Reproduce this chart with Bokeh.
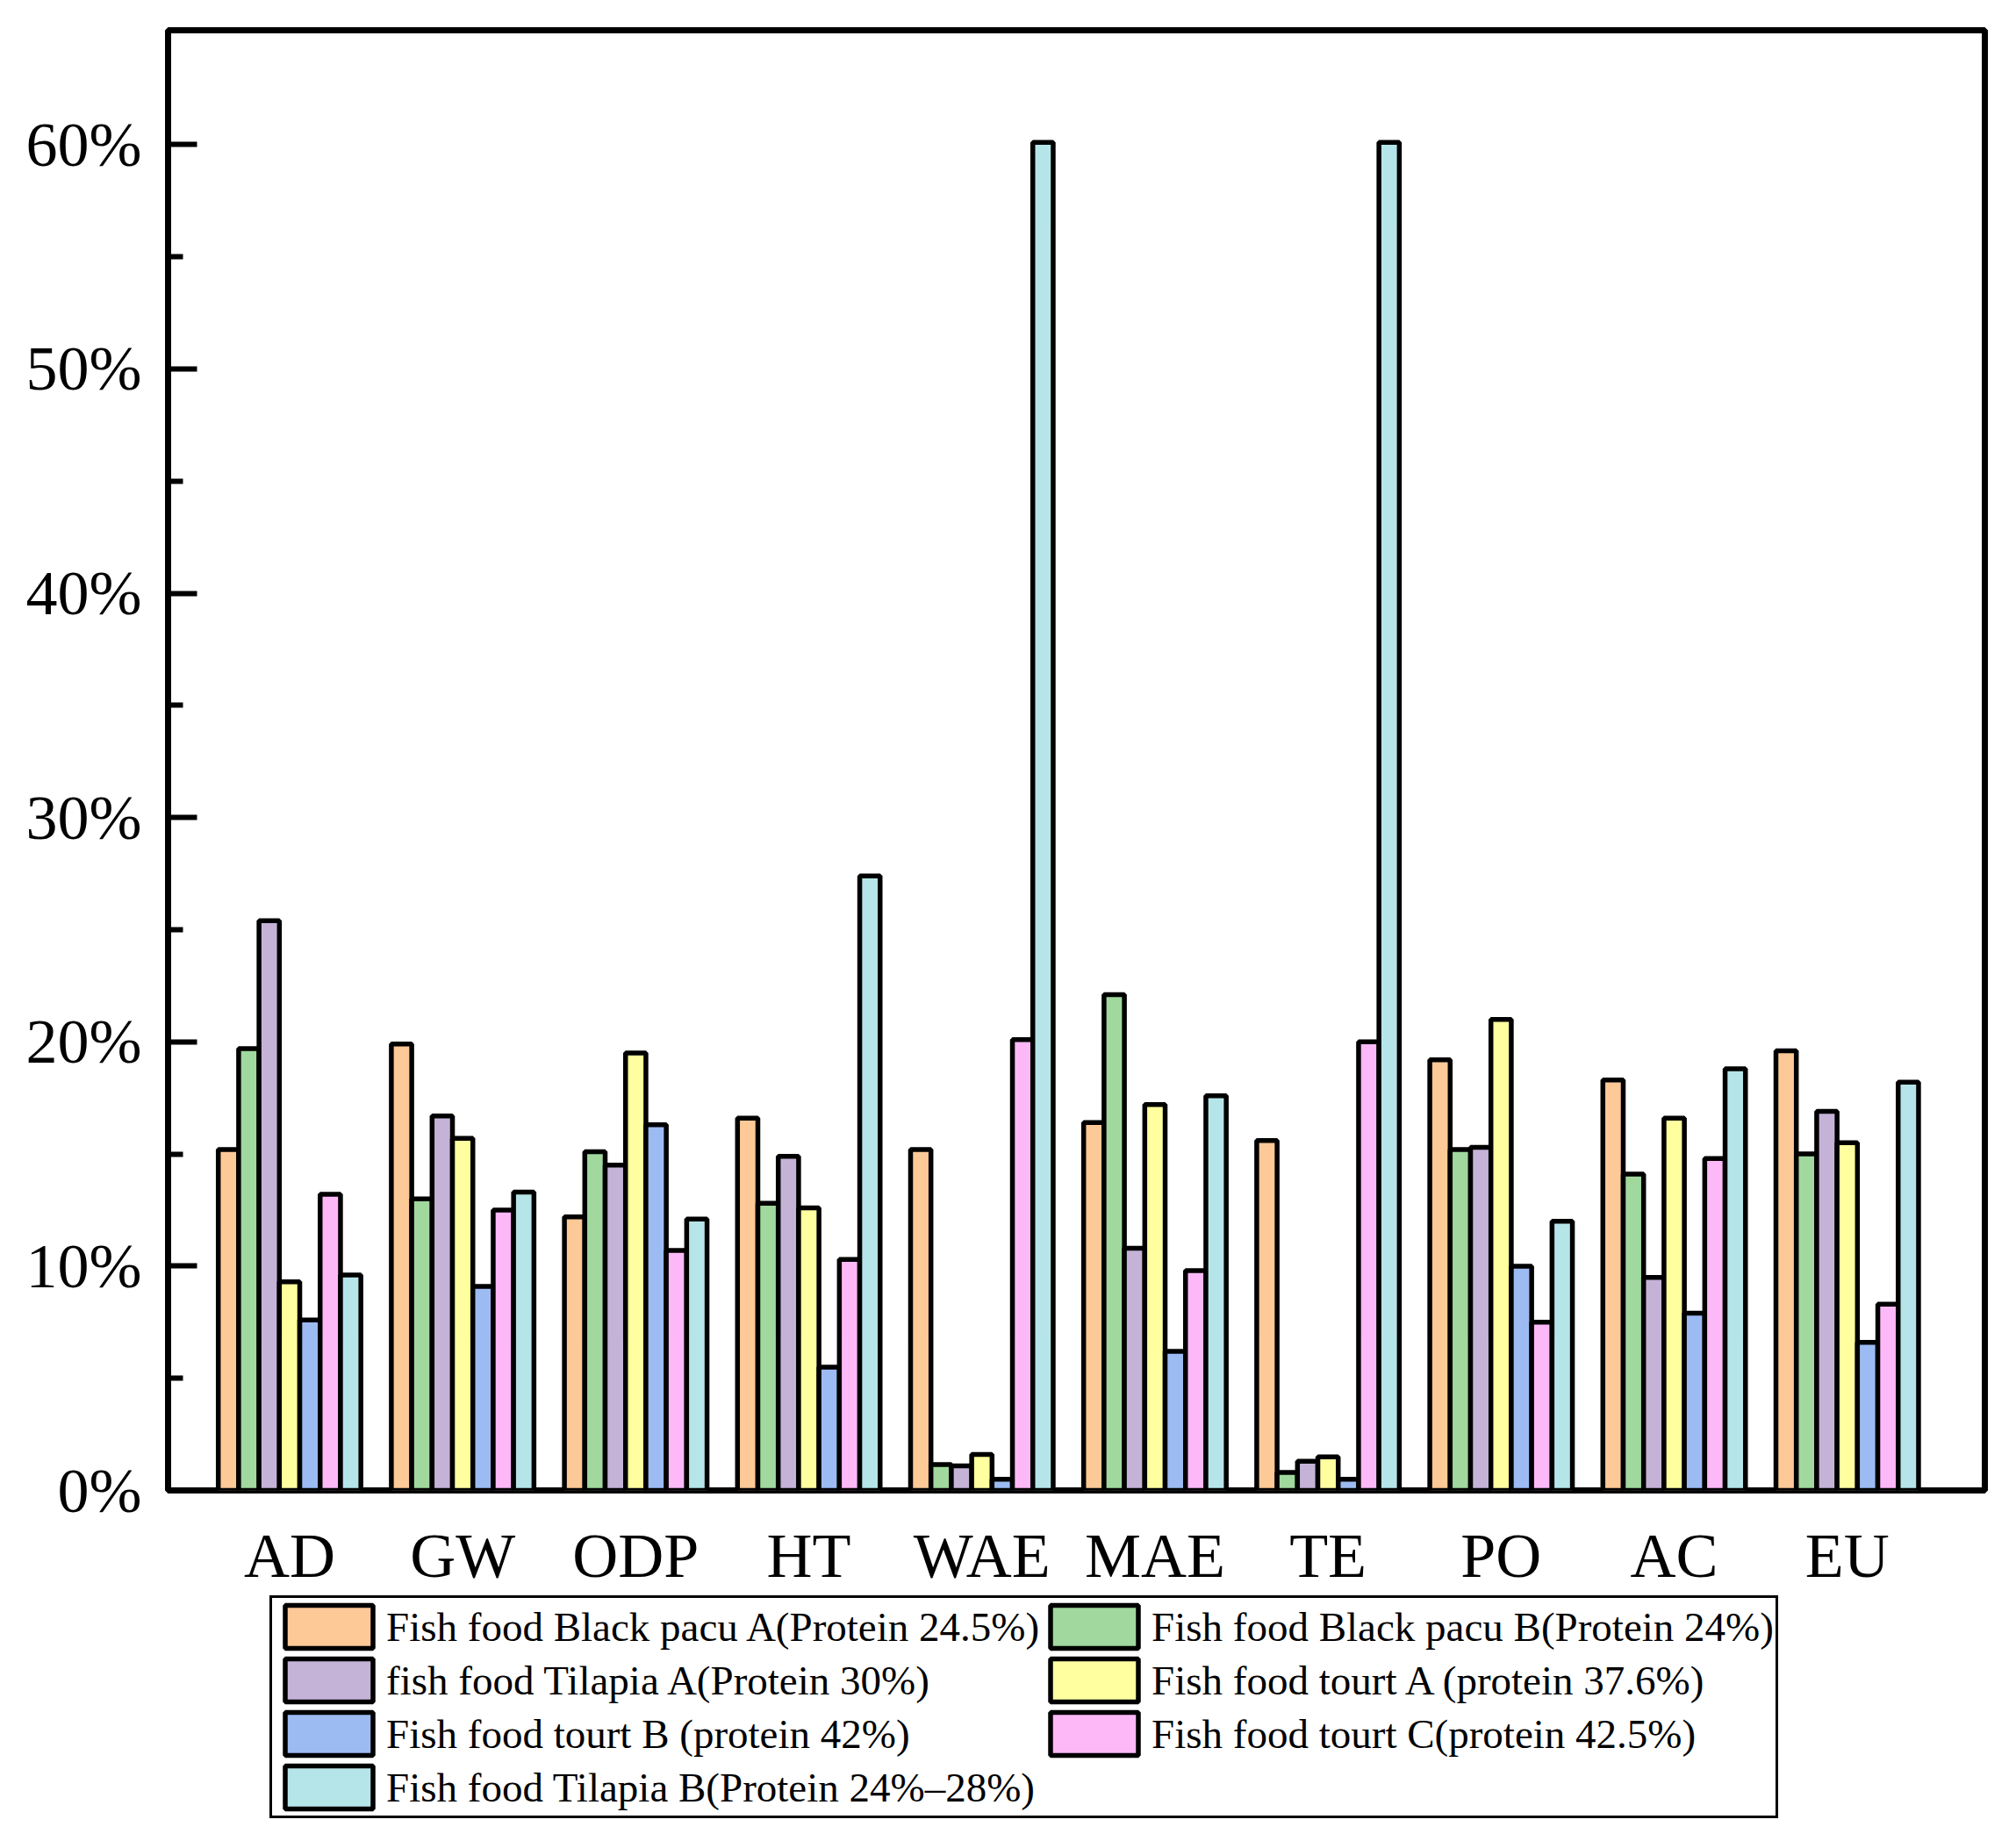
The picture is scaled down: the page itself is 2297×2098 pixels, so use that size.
import numpy as np
from bokeh.plotting import figure
from bokeh.layouts import column
from bokeh.models import Range1d, FixedTicker, PrintfTickFormatter, Legend, LegendItem, ColumnDataSource
from bokeh.embed import file_html
from bokeh.resources import INLINE

categories = ["AD", "GW", "ODP", "HT", "WAE", "MAE", "TE", "PO", "AC", "EU"]

series_names = [
    "Fish food Black pacu A(Protein 24.5%)",
    "Fish food Black pacu B(Protein 24%)",
    "fish food Tilapia A(Protein 30%)",
    "Fish food tourt A (protein 37.6%)",
    "Fish food tourt B (protein 42%)",
    "Fish food tourt C(protein 42.5%)",
    "Fish food Tilapia B(Protein 24%\u201328%)",
]

black_pacu_a = [15.2, 19.9, 12.2, 16.6, 15.2, 16.4, 15.6, 19.2, 18.3, 19.6]
black_pacu_b = [19.7, 13.0, 15.1, 12.8, 1.15, 22.1, 0.8, 15.2, 14.1, 15.0]
tilapia_a = [25.4, 16.7, 14.5, 14.9, 1.1, 10.8, 1.3, 15.3, 9.5, 16.9]
tourt_a = [9.3, 15.7, 19.5, 12.6, 1.6, 17.2, 1.5, 21.0, 16.6, 15.5]
tourt_b = [7.6, 9.1, 16.3, 5.5, 0.5, 6.2, 0.5, 10.0, 7.9, 6.6]
tourt_c = [13.2, 12.5, 10.7, 10.3, 20.1, 9.8, 20.0, 7.5, 14.8, 8.3]
tilapia_b = [9.6, 13.3, 12.1, 27.4, 60.1, 17.6, 60.1, 12.0, 18.8, 18.2]

series_values = [black_pacu_a, black_pacu_b, tilapia_a, tourt_a, tourt_b, tourt_c, tilapia_b]
colors = ["#FCC997", "#A0D89E", "#C4B3D7", "#FFFFA0", "#9CBBF3", "#FDB8F8", "#B6E5E9"]

y_ticks = [0, 10, 20, 30, 40, 50, 60]
y_minor = [5, 15, 25, 35, 45, 55]

FONT = "Liberation Serif"
bar_w = 0.1177
W = 2281

p = figure(width=W, height=1815, output_backend="svg", toolbar_location=None,
           x_range=Range1d(-0.702, 9.795), y_range=Range1d(0, 65.1),
           min_border_left=191, min_border_right=20, min_border_top=34, min_border_bottom=109)
p.xgrid.visible = False
p.ygrid.visible = False
p.outline_line_color = "black"
p.outline_line_width = 7
p.background_fill_color = "white"

idx = np.arange(len(categories))
sources = []
renderers = []
for j, (vals, col) in enumerate(zip(series_values, colors)):
    src = ColumnDataSource(dict(x=idx + (j - 3) * bar_w, top=vals))
    sources.append(src)
    r = p.vbar(x="x", top="top", bottom=0, width=bar_w, source=src,
               fill_color=col, line_color="black", line_width=5.5)
    renderers.append(r)

# y axis
ya = p.yaxis[0]
ya.ticker = FixedTicker(ticks=y_ticks, minor_ticks=y_minor)
ya.formatter = PrintfTickFormatter(format="%d%%")
ya.axis_line_color = None
ya.major_tick_in = 33
ya.major_tick_out = 0
ya.minor_tick_in = 17
ya.minor_tick_out = 0
ya.major_tick_line_width = 6
ya.minor_tick_line_width = 6
ya.major_label_text_font = FONT
ya.major_label_text_font_size = "72px"
ya.major_label_standoff = 30
ya.major_label_text_color = "black"

# x axis
xa = p.xaxis[0]
xa.ticker = FixedTicker(ticks=list(idx), minor_ticks=[])
xa.major_label_overrides = {int(i): c for i, c in zip(idx, categories)}
xa.axis_line_color = None
xa.major_tick_line_color = None
xa.minor_tick_line_color = None
xa.major_label_text_font = FONT
xa.major_label_text_font_size = "72px"
xa.major_label_standoff = 28
xa.major_label_text_color = "black"

# legend panel (same data, renderers hidden, used only for the legend swatches)
lf = figure(width=W, height=2082 - 1815, output_backend="svg", toolbar_location=None,
            x_range=Range1d(100, 101), y_range=Range1d(100, 101),
            min_border_left=191, min_border_right=20, min_border_top=0, min_border_bottom=0)
lf.axis.visible = False
lf.grid.visible = False
lf.outline_line_color = None
leg_renderers = []
for src, col in zip(sources, colors):
    r = lf.vbar(x="x", top="top", bottom=0, width=bar_w, source=src,
                fill_color=col, line_color="black", line_width=5.5, visible=False)
    leg_renderers.append(r)

order = [0, 2, 4, 6, 1, 3, 5]  # left column 1,3,5,7 ; right column 2,4,6
items = [LegendItem(label=series_names[k], renderers=[leg_renderers[k]]) for k in order]
legend = Legend(items=items, location=(116, 10), ncols=2, orientation="vertical",
                label_text_font=FONT, label_text_font_size="47px", label_text_color="black",
                glyph_width=125, glyph_height=61, label_height=50, label_standoff=3,
                spacing=-2, padding=2, margin=0,
                border_line_color="black", border_line_width=3, border_line_alpha=1.0,
                background_fill_color="white", background_fill_alpha=1.0,
                inactive_fill_alpha=0.0)
lf.add_layout(legend, "center")

layout = column(p, lf, spacing=0)
open("out.html", "w").write(file_html(layout, INLINE))
